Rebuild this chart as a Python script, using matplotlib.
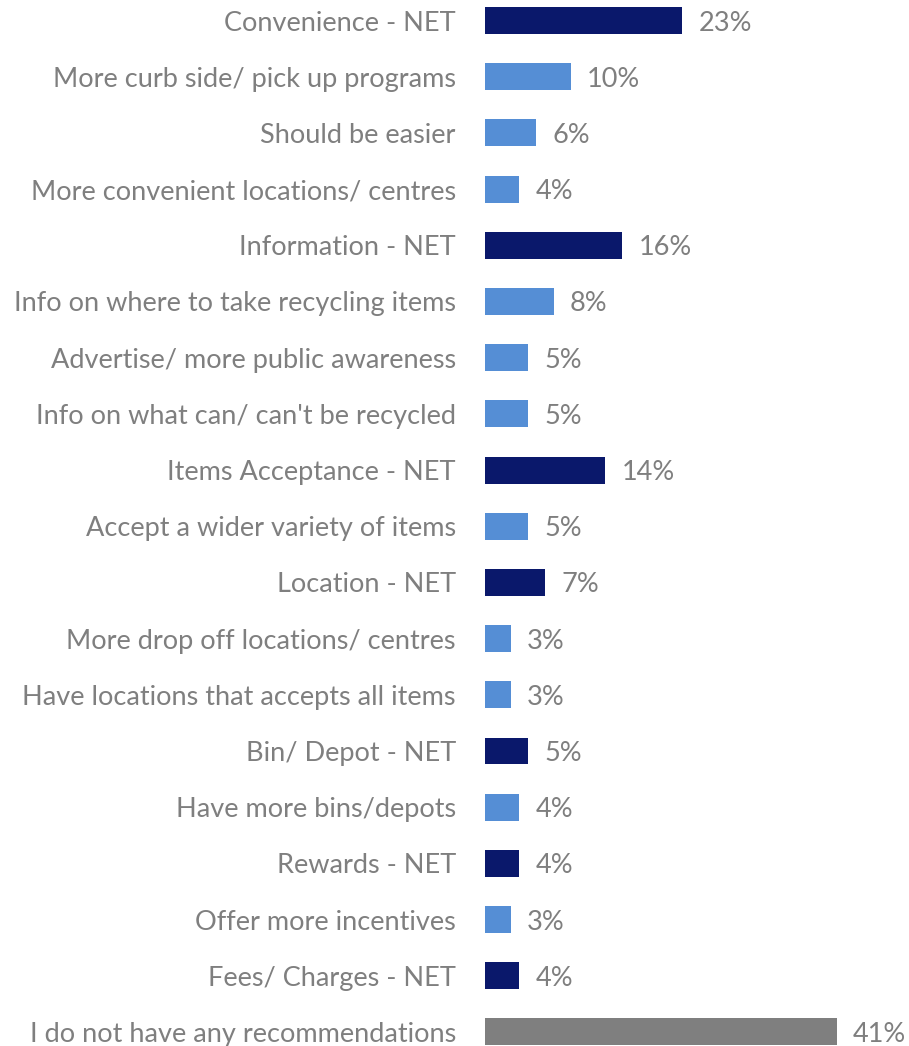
import matplotlib.pyplot as plt

# Suggested improvements, share of respondents (%)
categories = [
    "Convenience - NET",
    "More curb side/ pick up programs",
    "Should be easier",
    "More convenient locations/ centres",
    "Information - NET",
    "Info on where to take recycling items",
    "Advertise/ more public awareness",
    "Info on what can/ can't be recycled",
    "Items Acceptance - NET",
    "Accept a wider variety of items",
    "Location - NET",
    "More drop off locations/ centres",
    "Have locations that accepts all items",
    "Bin/ Depot - NET",
    "Have more bins/depots",
    "Rewards - NET",
    "Offer more incentives",
    "Fees/ Charges - NET",
    "I do not have any recommendations",
]
values = [23, 10, 6, 4, 16, 8, 5, 5, 14, 5, 7, 3, 3, 5, 4, 4, 3, 4, 41]
kinds = ["net", "sub", "sub", "sub", "net", "sub", "sub", "sub", "net", "sub",
         "net", "sub", "sub", "net", "sub", "net", "sub", "net", "none"]

colors = {"net": "#0A186B", "sub": "#558ED5", "none": "#7F7F7F"}
text_color = "#7F7F7F"

plt.rcParams['font.family'] = ['Lato', 'DejaVu Sans']

fig = plt.figure(figsize=(9.09, 10.46), dpi=100)
ax = fig.add_axes([485 / 909, 0, 1 - 485 / 909, 1])

y = list(range(len(categories)))
ax.barh(y, values, height=0.48, color=[colors[k] for k in kinds])

for yi, v in zip(y, values):
    ax.text(v + 1.9, yi, f"{v}%", va='center_baseline', ha='left',
            fontsize=19.5, color=text_color)

ax.set_yticks(y)
ax.set_yticklabels(categories, fontsize=19.5, color=text_color,
                   va='center_baseline')
ax.tick_params(axis='y', length=0, pad=21)
ax.set_xticks([])
ax.set_xlim(0, 49.4)
ax.set_ylim(18.25, -0.365)
for s in ax.spines.values():
    s.set_visible(False)

fig.savefig("out.png", dpi=100)
